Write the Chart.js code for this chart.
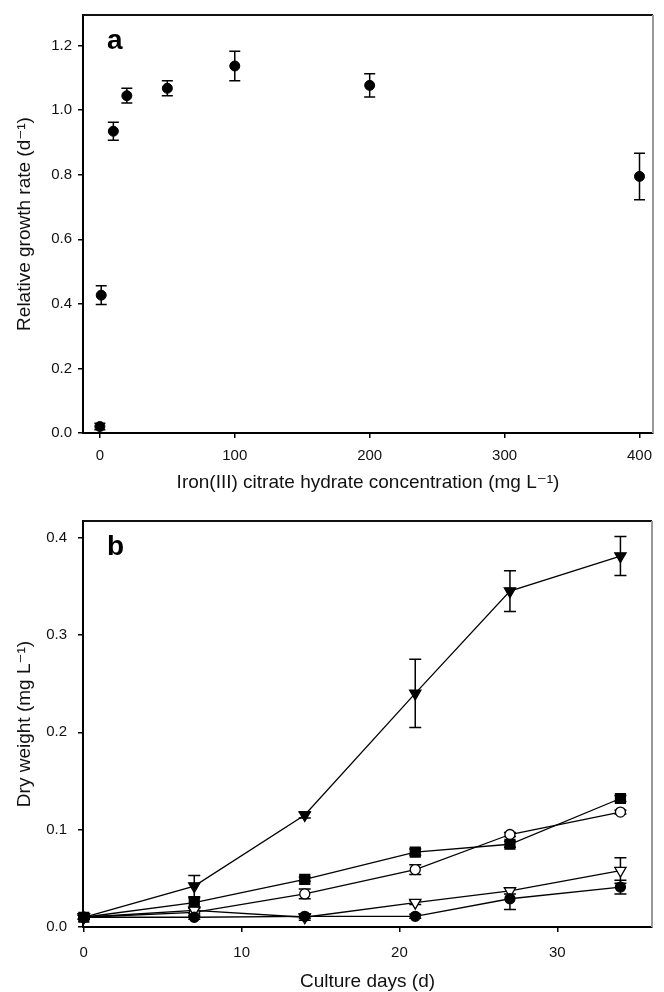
<!DOCTYPE html>
<html>
<head>
<meta charset="utf-8">
<script src="https://cdn.jsdelivr.net/npm/chart.js@4.4.0/dist/chart.umd.min.js"></script>
<style>
  body { margin: 0; background: #fff; }
  canvas { display: block; }
</style>
</head>
<body>
<canvas id="chartA" width="664" height="500"></canvas>
<canvas id="chartB" width="664" height="492"></canvas>
<script>
// panel a : growth rate vs iron(III) citrate
const ironConc = [0, 1, 10, 20, 50, 100, 200, 400];
const growthRate = [0.02, 0.427, 0.935, 1.045, 1.068, 1.137, 1.077, 0.795];
const growthErr = [0.01, 0.029, 0.028, 0.023, 0.023, 0.046, 0.036, 0.072];
const ironTicks = [0, 100, 200, 300, 400];
const rateTicks = [0, 0.2, 0.4, 0.6, 0.8, 1.0, 1.2];

// panel b : dry weight over culture days
const cultureDays = [0, 7, 14, 21, 27, 34];
const dwFilledTri = [0.01, 0.042, 0.115, 0.24, 0.345, 0.381];
const errFilledTri = [0.002, 0.011, 0.003, 0.035, 0.021, 0.02];
const dwFilledSq = [0.01, 0.025, 0.049, 0.077, 0.085, 0.132];
const errFilledSq = [0.002, 0.005, 0.002, 0.003, 0.003, 0.003];
const dwOpenCirc = [0.01, 0.015, 0.034, 0.059, 0.095, 0.118];
const errOpenCirc = [0.002, 0.004, 0.005, 0.005, 0.002, 0.002];
const dwOpenTri = [0.01, 0.017, 0.01, 0.025, 0.037, 0.058];
const errOpenTri = [0.002, 0.003, 0.003, 0.002, 0.003, 0.013];
const dwFilledCirc = [0.01, 0.01, 0.011, 0.011, 0.029, 0.041];
const errFilledCirc = [0.002, 0.002, 0.002, 0.002, 0.011, 0.007];
const dayTicks = [0, 10, 20, 30];
const weightTicks = [0, 0.1, 0.2, 0.3, 0.4];

const FONT = '"Liberation Sans", Arial, "DejaVu Sans", sans-serif';
const TXT = '#111';

function toPoints(xs, ys) {
  return xs.map((x, i) => ({ x: x, y: ys[i] }));
}

// draws the vertical error bars under the markers
const errorBars = {
  id: 'errorBars',
  beforeDatasetsDraw(chart) {
    const ctx = chart.ctx;
    const xs = chart.scales.x, ys = chart.scales.y;
    const cap = chart.options.plugins.errorBars.cap;
    chart.data.datasets.forEach(ds => {
      if (!ds.errors) return;
      ctx.save();
      ctx.strokeStyle = '#000';
      ctx.lineWidth = 1.5;
      ds.data.forEach((p, i) => {
        const e = ds.errors[i];
        const x = xs.getPixelForValue(p.x);
        const y1 = ys.getPixelForValue(p.y + e);
        const y2 = ys.getPixelForValue(p.y - e);
        ctx.beginPath();
        ctx.moveTo(x, y1); ctx.lineTo(x, y2);
        ctx.moveTo(x - cap, y1); ctx.lineTo(x + cap, y1);
        ctx.moveTo(x - cap, y2); ctx.lineTo(x + cap, y2);
        ctx.stroke();
      });
      ctx.restore();
    });
  }
};

// top/right frame and panel letter
const frame = {
  id: 'frame',
  afterDraw(chart) {
    const { ctx, chartArea: a } = chart;
    ctx.save();
    ctx.lineWidth = 2;
    ctx.strokeStyle = '#111';
    ctx.beginPath();
    ctx.moveTo(a.left, a.top); ctx.lineTo(a.right, a.top);
    ctx.stroke();
    ctx.strokeStyle = '#999';
    ctx.beginPath();
    ctx.moveTo(a.right, a.top); ctx.lineTo(a.right, a.bottom);
    ctx.stroke();
    ctx.fillStyle = '#000';
    ctx.font = 'bold 28px ' + FONT;
    ctx.textBaseline = 'alphabetic';
    ctx.fillText(chart.options.plugins.frame.letter, a.left + 24, a.top + 34);
    ctx.restore();
  }
};

function scaleOpts(min, max, tickVals, fmt, size, pad, titleText, titlePad) {
  return {
    type: 'linear', min: min, max: max,
    afterBuildTicks: s => { s.ticks = tickVals.map(v => ({ value: v })); },
    afterFit: s => { if (s.isHorizontal()) s.height = size; else s.width = size; },
    grid: { drawOnChartArea: false, drawTicks: true, tickLength: 5, color: '#000', lineWidth: 1.5 },
    border: { color: '#000', width: 2 },
    ticks: { padding: pad, color: TXT, font: { size: 15, family: FONT }, maxRotation: 0, callback: fmt },
    title: { display: true, text: titleText, color: TXT, font: { size: 19, family: FONT, lineHeight: 1 }, padding: titlePad }
  };
}

const fmt1 = v => v.toFixed(1);
const fmt0 = v => String(v);

new Chart(document.getElementById('chartA'), {
  type: 'scatter',
  data: {
    datasets: [{
      data: toPoints(ironConc, growthRate),
      errors: growthErr,
      pointStyle: 'circle', pointRadius: 5, pointBorderWidth: 1,
      backgroundColor: '#000', borderColor: '#000', clip: false
    }]
  },
  options: {
    responsive: false, animation: false,
    layout: { padding: { top: 10, right: 11, left: 0, bottom: 0 } },
    plugins: { legend: { display: false }, tooltip: { enabled: false },
      errorBars: { cap: 5.5 }, frame: { letter: 'a' } },
    scales: {
      x: scaleOpts(-12.5, 410, ironTicks, fmt0, 67, 9,
        'Iron(III) citrate hydrate concentration (mg L\u207B\u00B9)', { top: 0, bottom: 7.5 }),
      y: scaleOpts(0, 1.295, rateTicks, fmt1, 83, 6,
        'Relative growth rate (d\u207B\u00B9)', { top: 15.5, bottom: 0 })
    }
  },
  plugins: [errorBars, frame]
});

function lineSet(ys, errs, style, fill, radius) {
  return {
    data: toPoints(cultureDays, ys),
    errors: errs,
    showLine: true, borderColor: '#000', borderWidth: 1.3,
    pointStyle: style, pointRadius: radius, pointRotation: style === 'triangle' ? 180 : 0,
    pointBackgroundColor: fill, pointBorderColor: '#000', pointBorderWidth: 1.3,
    clip: false
  };
}

new Chart(document.getElementById('chartB'), {
  type: 'scatter',
  data: {
    datasets: [
      lineSet(dwFilledCirc, errFilledCirc, 'circle', '#000', 5),
      lineSet(dwOpenTri, errOpenTri, 'triangle', '#fff', 6.5),
      lineSet(dwOpenCirc, errOpenCirc, 'circle', '#fff', 5),
      lineSet(dwFilledSq, errFilledSq, 'rect', '#000', 7),
      lineSet(dwFilledTri, errFilledTri, 'triangle', '#000', 6.5)
    ]
  },
  options: {
    responsive: false, animation: false,
    layout: { padding: { top: 21, right: 12, left: 0, bottom: 0 } },
    plugins: { legend: { display: false }, tooltip: { enabled: false },
      errorBars: { cap: 6 }, frame: { letter: 'b' } },
    scales: {
      x: scaleOpts(-0.05, 36, dayTicks, fmt0, 65, 12, 'Culture days (d)', { top: 0, bottom: 0.5 }),
      y: scaleOpts(0, 0.417, weightTicks, fmt1, 83, 11, 'Dry weight (mg L\u207B\u00B9)', { top: 15.5, bottom: 0 })
    }
  },
  plugins: [errorBars, frame]
});
</script>
</body>
</html>
